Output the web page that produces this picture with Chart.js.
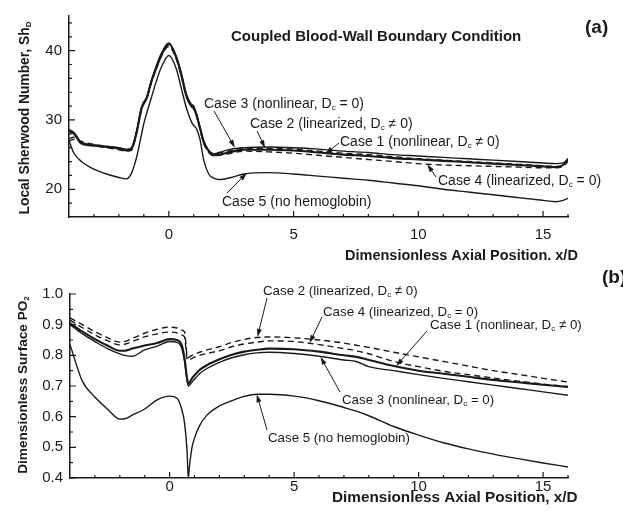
<!DOCTYPE html>
<html>
<head>
<meta charset="utf-8">
<script src="https://cdn.jsdelivr.net/npm/chart.js@4.4.1/dist/chart.umd.min.js"></script>
<style>
  body { margin: 0; background: #fff; }
  #wrap { position: relative; width: 623px; height: 516px; overflow: hidden; }
  canvas { position: absolute; left: 0; }
  #panelA { top: 0; }
  #panelB { top: 260px; }
</style>
</head>
<body>
<div id="wrap">
  <canvas id="panelA" width="623" height="260"></canvas>
  <canvas id="panelB" width="623" height="256"></canvas>
</div>
<script>
// ---- panel (a): local Sherwood number ----
const xA = [-4, -3.8, -3.5, -3, -2.5, -2, -1.7, -1.5, -1.3, -1.1, -1.0, -0.9, -0.7, -0.5, -0.3,
            0, 0.3, 0.5, 0.7, 0.9, 1.0, 1.1, 1.25, 1.4, 1.6, 1.8, 2.0, 2.5, 3, 4,
            5, 6, 7, 8, 9, 10, 11, 12, 13, 14, 15, 15.5, 15.8, 16];
const shCase1 = [28.4, 28.0, 26.6, 26.3, 26.1, 25.9, 25.6, 25.8, 28.0, 31.5, 32.5, 33.0, 35.5, 37.5, 39.3,
                 41.0, 39.0, 36.5, 33.5, 32.0, 31.7, 30.8, 28.8, 26.8, 25.5, 24.9, 25.0, 25.4, 25.7, 25.7,
                 25.6, 25.3, 25.0, 24.8, 24.5, 24.3, 24.1, 23.9, 23.7, 23.5, 23.3, 23.2, 23.5, 24.4];
const shCase2 = [27.3, 27.5, 26.9, 26.5, 26.2, 25.9, 25.7, 25.9, 28.2, 31.6, 32.4, 33.0, 35.5, 37.6, 39.4,
                 40.8, 39.0, 36.6, 33.6, 32.2, 31.8, 30.9, 28.9, 26.9, 25.6, 25.1, 25.2, 25.6, 25.9, 25.9,
                 25.8, 25.5, 25.2, 25.0, 24.7, 24.4, 24.2, 24.0, 23.8, 23.6, 23.4, 23.3, 23.5, 24.2];
const shCase3 = [28.6, 28.2, 26.8, 26.4, 26.2, 26.0, 25.8, 26.0, 28.3, 31.8, 32.6, 33.2, 35.7, 37.8, 39.6,
                 41.1, 39.2, 36.8, 33.8, 32.3, 32.0, 31.0, 29.0, 27.0, 25.6, 25.1, 25.3, 25.8, 26.0, 26.1,
                 26.0, 25.8, 25.5, 25.3, 25.0, 24.8, 24.6, 24.4, 24.2, 24.0, 23.8, 23.7, 23.8, 24.3];
const shCase4 = [27.0, 27.2, 26.7, 26.3, 26.0, 25.7, 25.5, 25.6, 28.0, 31.4, 32.3, 32.9, 35.4, 37.4, 39.2,
                 40.6, 38.8, 36.4, 33.4, 32.0, 31.6, 30.7, 28.7, 26.6, 25.3, 24.8, 24.9, 25.2, 25.5, 25.4,
                 25.2, 24.9, 24.6, 24.3, 24.0, 23.7, 23.5, 23.4, 23.3, 23.2, 23.1, 23.1, 23.3, 24.0];
const shCase5 = [27.0, 25.2, 24.0, 22.9, 22.2, 21.7, 21.5, 22.3, 24.5, 27.8, 29.5, 30.8, 33.2, 35.6, 37.6,
                 39.3, 37.4, 34.6, 31.8, 29.8, 29.2, 28.8, 27.2, 24.2, 22.2, 21.6, 21.4, 21.7, 22.2, 22.4,
                 22.2, 21.9, 21.6, 21.3, 20.9, 20.5, 20.0, 19.6, 19.2, 18.8, 18.4, 18.2, 18.4, 18.7];

// ---- panel (b): dimensionless surface PO2 ----
const xB = [-4, -3.5, -3, -2.5, -2, -1.8, -1.5, -1, -0.5, 0, 0.3, 0.5, 0.6, 0.7, 0.75,
            0.8, 0.9, 1.0, 1.2, 1.5, 2, 2.5, 3, 3.5, 4, 5, 6, 7, 7.5, 8,
            9, 10, 11, 12, 13, 14, 15, 16];
const po2Case1 = [0.905, 0.877, 0.853, 0.832, 0.815, 0.815, 0.822, 0.832, 0.84, 0.853, 0.85, 0.83, 0.79, 0.725, 0.708,
                  0.712, 0.725, 0.735, 0.752, 0.768, 0.787, 0.802, 0.812, 0.818, 0.822, 0.82, 0.812, 0.80, 0.795, 0.785,
                  0.765, 0.75, 0.74, 0.73, 0.72, 0.712, 0.704, 0.697];
const po2Case2 = [0.922, 0.9, 0.877, 0.858, 0.843, 0.845, 0.855, 0.872, 0.885, 0.892, 0.889, 0.882, 0.876, 0.80, 0.792,
                  0.795, 0.80, 0.804, 0.81, 0.818, 0.828, 0.842, 0.852, 0.858, 0.86, 0.857, 0.85, 0.84, 0.833, 0.826,
                  0.81, 0.795, 0.78, 0.765, 0.75, 0.738, 0.725, 0.713];
const po2Case3 = [0.90, 0.87, 0.845, 0.822, 0.805, 0.80, 0.797, 0.818, 0.83, 0.845, 0.842, 0.82, 0.78, 0.72, 0.70,
                  0.703, 0.713, 0.722, 0.74, 0.757, 0.777, 0.792, 0.802, 0.808, 0.81, 0.806, 0.797, 0.785, 0.78, 0.763,
                  0.75, 0.737, 0.725, 0.714, 0.703, 0.692, 0.681, 0.67];
const po2Case4 = [0.915, 0.89, 0.867, 0.848, 0.834, 0.836, 0.845, 0.86, 0.87, 0.876, 0.873, 0.866, 0.86, 0.79, 0.784,
                  0.786, 0.79, 0.794, 0.80, 0.806, 0.815, 0.828, 0.837, 0.843, 0.847, 0.845, 0.835, 0.822, 0.815, 0.805,
                  0.78, 0.763, 0.748, 0.737, 0.726, 0.716, 0.706, 0.698];
const po2Case5 = [0.835, 0.715, 0.664, 0.625, 0.592, 0.593, 0.605, 0.625, 0.655, 0.667, 0.66, 0.62, 0.58, 0.49, 0.40,
                  0.44, 0.50, 0.53, 0.57, 0.605, 0.635, 0.652, 0.666, 0.673, 0.673, 0.667, 0.652, 0.63, 0.618, 0.603,
                  0.568, 0.54, 0.515, 0.495, 0.478, 0.463, 0.449, 0.436];

// ---- ticks ----
const xTicks = [0, 5, 10, 15];
const xMinor = [-3, -2, -1, 1, 2, 3, 4, 6, 7, 8, 9, 11, 12, 13, 14, 16];
const shTicks = [20, 30, 40];
const shMinor = [18, 22, 24, 26, 28, 32, 34, 36, 38, 42, 44];
const po2Ticks = [0.4, 0.5, 0.6, 0.7, 0.8, 0.9, 1.0];
const po2Minor = [0.45, 0.55, 0.65, 0.75, 0.85, 0.95];

const INK = '#1a1a1a';
const FONT = '"Liberation Sans", Arial, sans-serif';

function toPoints(xs, ys) {
    return xs.map((x, i) => ({ x: x, y: ys[i] }));
}

function lineSet(xs, ys, dashed, width) {
    return {
        data: toPoints(xs, ys),
        borderColor: INK,
        borderWidth: width,
        borderDash: dashed ? [6, 4] : [],
        pointRadius: 0,
        fill: false,
        cubicInterpolationMode: 'monotone'
    };
}

// text with optional subscript pieces: [['Case 1 (nonlinear, D'], ['c', 'sub'], [' = 0)']]
function subSize(size) {
    return Math.round(size * 0.6);
}

function richWidth(ctx, parts, size, bold) {
    let w = 0;
    parts.forEach(p => {
        const sub = p[1] === 'sub';
        ctx.font = (bold ? 'bold ' : '') + (sub ? subSize(size) : size) + 'px ' + FONT;
        w += ctx.measureText(p[0]).width;
    });
    return w;
}

function drawRich(ctx, parts, x, y, size, bold) {
    let cx = x;
    ctx.textBaseline = 'middle';
    ctx.textAlign = 'left';
    parts.forEach(p => {
        const sub = p[1] === 'sub';
        ctx.font = (bold ? 'bold ' : '') + (sub ? subSize(size) : size) + 'px ' + FONT;
        ctx.fillText(p[0], cx, sub ? y + size * 0.3 : y);
        cx += ctx.measureText(p[0]).width;
    });
}

const decorPlugin = {
    id: 'decor',
    afterDraw(chart, args, opts) {
        const ctx = chart.ctx;
        const xs = chart.scales.x, ys = chart.scales.y;
        const area = chart.chartArea;
        ctx.save();
        ctx.strokeStyle = INK;
        ctx.fillStyle = INK;
        ctx.lineWidth = 1.2;

        // inward tick marks
        ctx.beginPath();
        xTicks.forEach(v => { const p = xs.getPixelForValue(v); ctx.moveTo(p, area.bottom); ctx.lineTo(p, area.bottom - 6); });
        xMinor.forEach(v => { const p = xs.getPixelForValue(v); ctx.moveTo(p, area.bottom); ctx.lineTo(p, area.bottom - 3); });
        opts.yMajor.forEach(v => { const p = ys.getPixelForValue(v); ctx.moveTo(area.left, p); ctx.lineTo(area.left + 6, p); });
        opts.yMinor.forEach(v => { const p = ys.getPixelForValue(v); ctx.moveTo(area.left, p); ctx.lineTo(area.left + 3, p); });
        ctx.stroke();

        // free text: titles, axis names, panel letter
        opts.texts.forEach(t => {
            const w = richWidth(ctx, t.parts, t.size, t.bold);
            ctx.save();
            ctx.translate(t.x, t.y);
            if (t.rotate) ctx.rotate(-Math.PI / 2);
            drawRich(ctx, t.parts, t.center ? -w / 2 : 0, 0, t.size, t.bold);
            ctx.restore();
        });

        // case labels with arrows pointing at a data location
        ctx.lineWidth = 1;
        opts.notes.forEach(n => {
            drawRich(ctx, n.parts, n.x, n.y, opts.noteSize, false);
            const tx = xs.getPixelForValue(n.at[0]);
            const ty = ys.getPixelForValue(n.at[1]);
            const ang = Math.atan2(ty - n.from[1], tx - n.from[0]);
            ctx.beginPath();
            ctx.moveTo(n.from[0], n.from[1]);
            ctx.lineTo(tx - 5 * Math.cos(ang), ty - 5 * Math.sin(ang));
            ctx.stroke();
            ctx.beginPath();
            ctx.moveTo(tx, ty);
            ctx.lineTo(tx - 8 * Math.cos(ang) + 2.5 * Math.sin(ang), ty - 8 * Math.sin(ang) - 2.5 * Math.cos(ang));
            ctx.lineTo(tx - 8 * Math.cos(ang) - 2.5 * Math.sin(ang), ty - 8 * Math.sin(ang) + 2.5 * Math.cos(ang));
            ctx.closePath();
            ctx.fill();
        });
        ctx.restore();
    }
};

function makePanel(id, xs, series, yCfg, layout, decor) {
    return new Chart(document.getElementById(id), {
        type: 'line',
        data: {
            datasets: [
                lineSet(xs, series[4], false, 1.4),
                lineSet(xs, series[3], true, 1.4),
                lineSet(xs, series[1], true, 1.4),
                lineSet(xs, series[2], false, 1.4),
                lineSet(xs, series[0], false, 2.1)
            ]
        },
        options: {
            responsive: false,
            animation: false,
            events: [],
            layout: { padding: layout.padding },
            plugins: { legend: { display: false }, tooltip: { enabled: false }, decor: decor },
            scales: {
                x: {
                    type: 'linear',
                    min: -4,
                    max: 16,
                    afterBuildTicks: s => { s.ticks = xTicks.map(v => ({ value: v })); },
                    afterFit: s => { s.height = layout.xHeight; },
                    grid: { drawOnChartArea: false, drawTicks: false },
                    border: { display: true, color: INK, width: 1.5 },
                    ticks: { color: INK, padding: layout.xPad, font: { family: FONT, size: 15 }, maxRotation: 0 }
                },
                y: {
                    type: 'linear',
                    min: yCfg.min,
                    max: yCfg.max,
                    afterBuildTicks: s => { s.ticks = yCfg.ticks.map(v => ({ value: v })); },
                    afterFit: s => { s.width = layout.yWidth; },
                    grid: { drawOnChartArea: false, drawTicks: false },
                    border: { display: true, color: INK, width: 1.5 },
                    ticks: {
                        color: INK, padding: 7, font: { family: FONT, size: 15 },
                        callback: yCfg.format
                    }
                }
            }
        },
        plugins: [decorPlugin]
    });
}

const xTitle = [['Dimensionless Axial Position, x/D']];

makePanel('panelA', xA, [shCase1, shCase2, shCase3, shCase4, shCase5],
    { min: 16, max: 45, ticks: shTicks, format: v => String(v) },
    { padding: { top: 12, right: 55, left: 0, bottom: 0 }, xHeight: 43, yWidth: 69, xPad: 9 },
    {
        yMajor: shTicks, yMinor: shMinor, noteSize: 14,
        texts: [
            { parts: [['Coupled Blood-Wall Boundary Condition']], x: 231, y: 37, size: 15, bold: true },
            { parts: [['(a)']], x: 585, y: 28, size: 19, bold: true },
            { parts: xTitle, x: 345, y: 256, size: 14.5, bold: true },
            { parts: [['Local Sherwood Number, Sh'], ['D', 'sub']], x: 25, y: 118, size: 13.8, bold: true, rotate: true, center: true }
        ],
        notes: [
            { parts: [['Case 3 (nonlinear, D'], ['c', 'sub'], [' = 0)']], x: 204, y: 104, from: [214, 111], at: [2.65, 26.0] },
            { parts: [['Case 2 (linearized, D'], ['c', 'sub'], [' \u2260 0)']], x: 250, y: 124, from: [257, 131], at: [3.86, 25.95] },
            { parts: [['Case 1 (nonlinear, D'], ['c', 'sub'], [' \u2260 0)']], x: 340, y: 142, from: [339, 143], at: [6.27, 25.1] },
            { parts: [['Case 4 (linearized, D'], ['c', 'sub'], [' = 0)']], x: 438, y: 181, from: [436, 177], at: [10.36, 23.6] },
            { parts: [['Case 5 (no hemoglobin)']], x: 222, y: 202, from: [227, 193], at: [3.13, 22.35] }
        ]
    });

makePanel('panelB', xB, [po2Case1, po2Case2, po2Case3, po2Case4, po2Case5],
    { min: 0.4, max: 1.0, ticks: po2Ticks, format: v => v.toFixed(1) },
    { padding: { top: 34, right: 55, left: 0, bottom: 0 }, xHeight: 38, yWidth: 70, xPad: 0 },
    {
        yMajor: po2Ticks, yMinor: po2Minor, noteSize: 13.3,
        texts: [
            { parts: [['(b)']], x: 602, y: 18, size: 19, bold: true },
            { parts: xTitle, x: 332, y: 238, size: 15.3, bold: true },
            { parts: [['Dimensionless Surface PO'], ['2', 'sub']], x: 23, y: 125, size: 13.6, bold: true, rotate: true, center: true }
        ],
        notes: [
            { parts: [['Case 2 (linearized, D'], ['c', 'sub'], [' \u2260 0)']], x: 263, y: 31, from: [267, 38], at: [3.53, 0.86] },
            { parts: [['Case 4 (linearized, D'], ['c', 'sub'], [' = 0)']], x: 323, y: 52, from: [322, 57], at: [5.62, 0.84] },
            { parts: [['Case 1 (nonlinear, D'], ['c', 'sub'], [' \u2260 0)']], x: 430, y: 65, from: [427, 71], at: [9.1, 0.765] },
            { parts: [['Case 3 (nonlinear, D'], ['c', 'sub'], [' = 0)']], x: 342, y: 140, from: [340, 132], at: [6.06, 0.795] },
            { parts: [['Case 5 (no hemoglobin)']], x: 268, y: 178, from: [267, 170], at: [3.5, 0.673] }
        ]
    });
</script>
</body>
</html>
